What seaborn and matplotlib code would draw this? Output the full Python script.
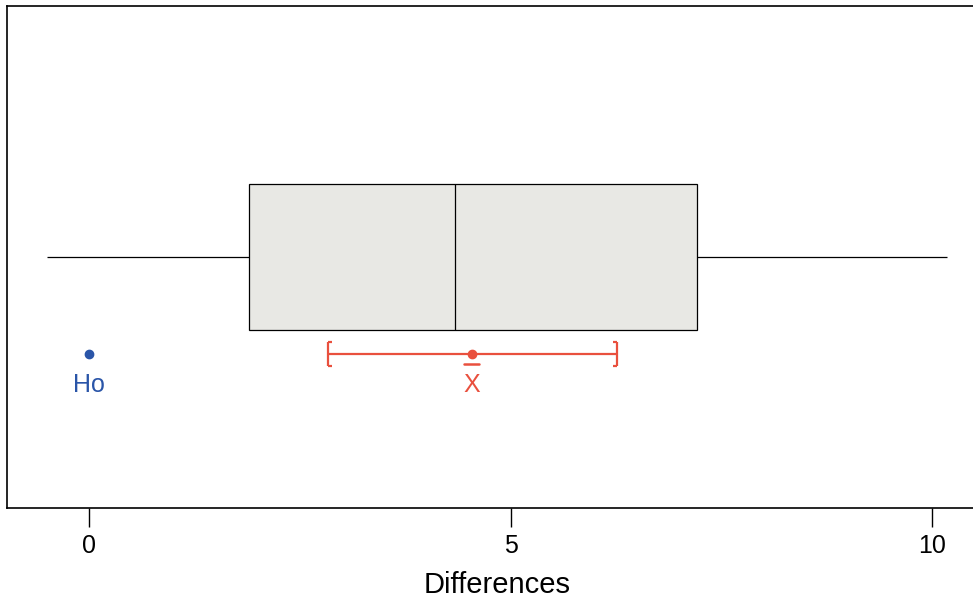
import matplotlib
matplotlib.use("Agg")
import matplotlib.pyplot as plt
import numpy as np
import seaborn as sns

# Five-number summary of the differences (min, Q1, median, Q3, max)
differences = [-0.5, 1.9, 4.34, 7.21, 10.18]
sample_mean = 4.54
ci_low, ci_high = 2.84, 6.26
h0_value = 0.0
x_ticks = [0, 5, 10]

red = "#E9503E"
blue = "#2A55A8"

sns.set_theme(style="white")
plt.rcParams["font.family"] = ["Liberation Sans", "DejaVu Sans"]

fig = plt.figure(figsize=(9.73, 5.98), dpi=100)
ax = fig.add_axes([7 / 973, 90 / 598, 980 / 973, 502 / 598])

sns.boxplot(x=differences, ax=ax, width=0.8, color="#E8E8E4", saturation=1,
            linecolor="black", linewidth=0.9, showcaps=False, fliersize=0)

# confidence interval for the mean, with bracket ends
ci_y = -0.53
ax.plot([ci_low, ci_high], [ci_y, ci_y], color=red, lw=1.6, solid_capstyle="butt")
ax.vlines([ci_low, ci_high], ci_y - 0.065, ci_y + 0.065, color=red, lw=1.6)
ax.hlines([ci_y - 0.065, ci_y + 0.065], ci_low, ci_low + 0.045, color=red, lw=1.6)
ax.hlines([ci_y - 0.065, ci_y + 0.065], ci_high - 0.045, ci_high, color=red, lw=1.6)
ax.plot([sample_mean], [ci_y], "o", color=red, ms=6)
ax.plot([sample_mean - 0.09, sample_mean + 0.09], [-0.586, -0.586], color=red, lw=1.8)
ax.text(sample_mean, -0.70, "X", color=red, fontsize=18, ha="center", va="center")

# hypothesised value
ax.plot([h0_value], [ci_y], "o", color=blue, ms=6)
ax.text(h0_value, -0.70, "Ho", color=blue, fontsize=18, ha="center", va="center")

ax.set_xlim(-0.973, 10.65)
ax.set_ylim(-1.375, 1.375)
ax.set_yticks([])
ax.set_ylabel("")
ax.set_xticks(x_ticks)
ax.set_xticklabels([str(t) for t in x_ticks])
ax.tick_params(axis="x", bottom=True, direction="out", length=14, width=1,
               color="black", pad=5, labelsize=18, labelcolor="black")
ax.set_xlabel("Differences", fontsize=21, labelpad=9, color="black")

for side in ["left", "bottom", "top"]:
    ax.spines[side].set_visible(True)
    ax.spines[side].set_color("black")
    ax.spines[side].set_linewidth(1.2)
ax.spines["right"].set_visible(False)

fig.savefig("out.png", dpi=100)
